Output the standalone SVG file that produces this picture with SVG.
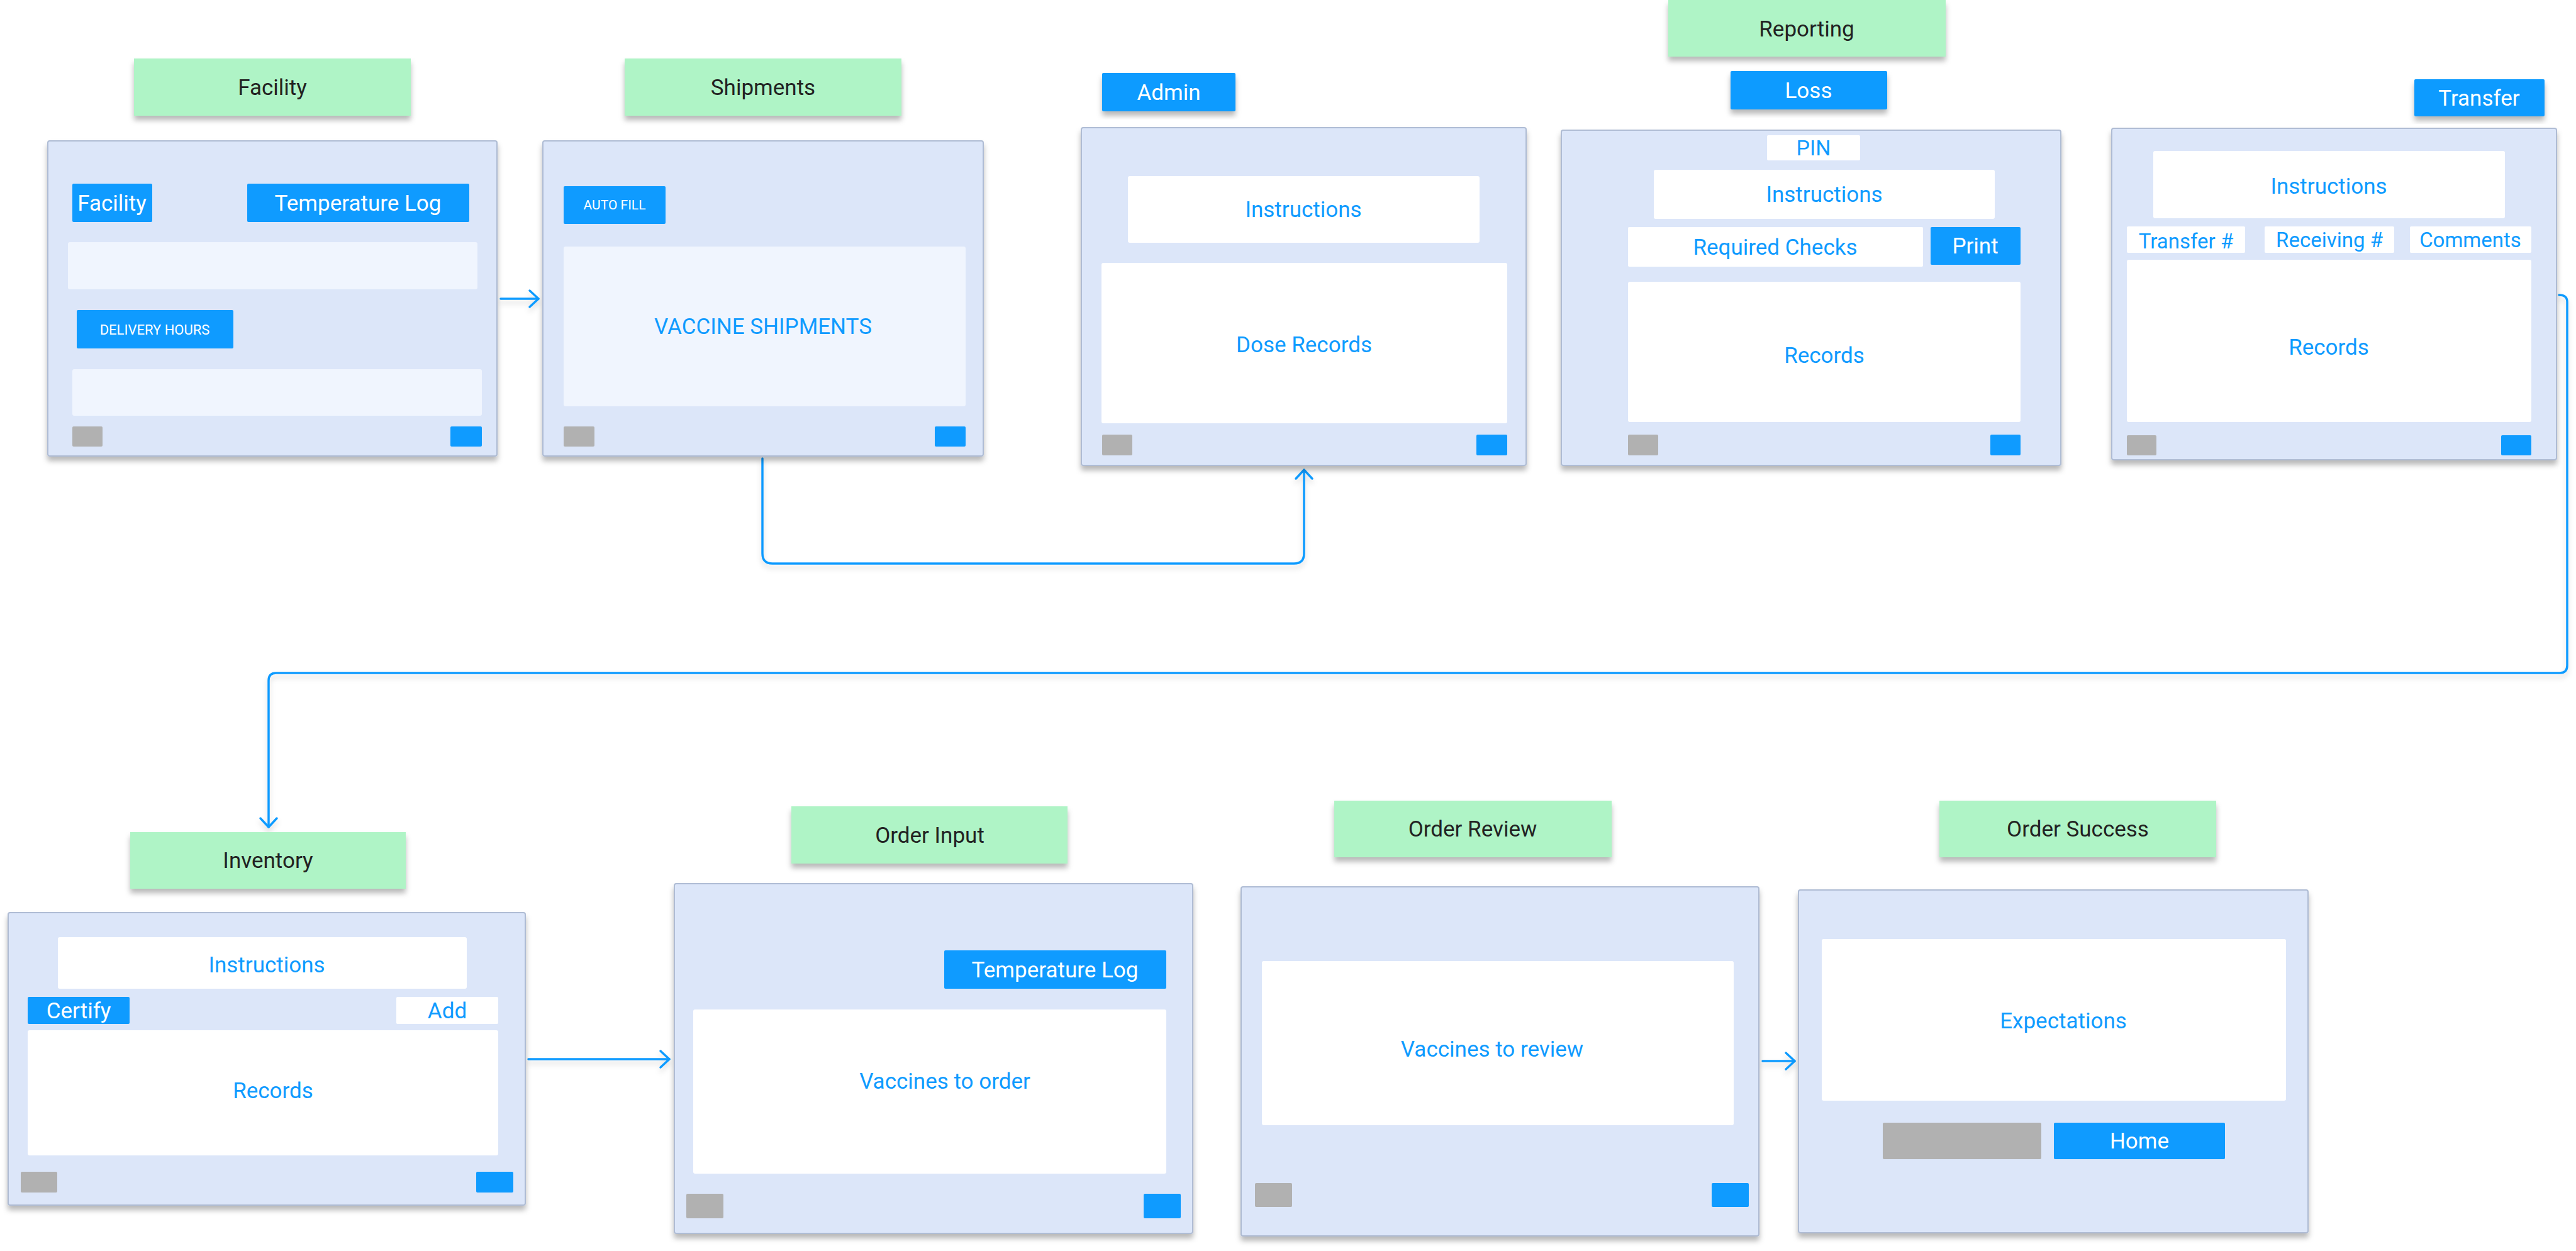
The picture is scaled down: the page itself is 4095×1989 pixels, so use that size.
<svg xmlns="http://www.w3.org/2000/svg" width="4095" height="1989" viewBox="0 0 4095 1989">
<defs>
<style>
text{font-family:Roboto,"Liberation Sans",Arial,sans-serif;font-size:35px;text-anchor:middle;dominant-baseline:central}
.frame{fill:#DCE6F9;stroke:#AFBCD4;stroke-width:2;filter:url(#sh)}
.green{fill:#AFF4C6;filter:url(#sh)}
.tag{fill:#0F9BFF;filter:url(#sh)}
.btn{fill:#0F9BFF}
.white{fill:#FFFFFF}
.strip{fill:#F0F5FE}
.grey{fill:#B1B1B1}
.dark{fill:#222222}
.wt{fill:#FFFFFF}
.bt{fill:#0F9BFF}
.conn{fill:none;stroke:#0F9BFF;stroke-width:3.5;stroke-linecap:round;stroke-linejoin:round}
</style>
<filter id="sh" x="-5%" y="-5%" width="110%" height="125%">
<feDropShadow dx="0" dy="7" stdDeviation="4" flood-color="#000" flood-opacity="0.28"/>
</filter>
<filter id="csh" x="-5%" y="-5%" width="110%" height="120%">
<feDropShadow dx="0" dy="6" stdDeviation="4" flood-color="#000" flood-opacity="0.15"/>
</filter>
<marker id="arr" markerUnits="userSpaceOnUse" viewBox="0 0 20 32" markerWidth="20" markerHeight="32" refX="17" refY="16" orient="auto">
<path d="M3,3 L17,16 L3,29" fill="none" stroke="#0F9BFF" stroke-width="3.5" stroke-linecap="round" stroke-linejoin="round"/>
</marker>
</defs>

<g id="connectors" filter="url(#csh)">
<path class="conn" d="M796,475 L856,475" marker-end="url(#arr)"/>
<path class="conn" d="M1212,729 L1212,880 Q1212,896 1228,896 L2057,896 Q2073,896 2073,880 L2073,747" marker-end="url(#arr)"/>
<path class="conn" d="M4068,469 Q4081,469 4081,480 L4081,1058 Q4081,1070 4069,1070 L439,1070 Q427,1070 427,1082 L427,1315" marker-end="url(#arr)"/>
<path class="conn" d="M840,1684 L1064,1684" marker-end="url(#arr)"/>
<path class="conn" d="M2802,1687 L2853,1687" marker-end="url(#arr)"/>
</g>

<g id="facility">
<rect class="green" x="213" y="93" width="440" height="91"/>
<text class="dark" x="433" y="139">Facility</text>
<rect class="frame" x="76" y="224" width="714" height="501" rx="3"/>
<rect class="btn" x="115" y="292" width="127" height="61" rx="2"/>
<text class="wt" x="178" y="323">Facility</text>
<rect class="btn" x="393" y="292" width="353" height="61" rx="2"/>
<text class="wt" x="569" y="323">Temperature Log</text>
<rect class="strip" x="108" y="385" width="651" height="75" rx="3"/>
<rect class="btn" x="122" y="493" width="249" height="61" rx="2"/>
<text class="wt" x="246" y="524" style="font-size:22px">DELIVERY HOURS</text>
<rect class="strip" x="115" y="587" width="651" height="74" rx="3"/>
<rect class="grey" x="115" y="678" width="48" height="32" rx="2"/>
<rect class="btn" x="716" y="678" width="50" height="32" rx="2"/>
</g>

<g id="shipments">
<rect class="green" x="993" y="93" width="440" height="91"/>
<text class="dark" x="1213" y="139">Shipments</text>
<rect class="frame" x="863" y="224" width="700" height="501" rx="3"/>
<rect class="btn" x="896" y="296" width="162" height="60" rx="2"/>
<text class="wt" x="977" y="326" style="font-size:21px">AUTO FILL</text>
<rect class="strip" x="896" y="392" width="639" height="254" rx="3"/>
<text class="bt" x="1213" y="519" style="font-size:35px">VACCINE SHIPMENTS</text>
<rect class="grey" x="896" y="678" width="49" height="32" rx="2"/>
<rect class="btn" x="1486" y="678" width="49" height="32" rx="2"/>
</g>

<g id="admin">
<rect class="tag" x="1752" y="116" width="212" height="61" rx="2"/>
<text class="wt" x="1858" y="147">Admin</text>
<rect class="frame" x="1719" y="203" width="707" height="537" rx="3"/>
<rect class="white" x="1793" y="280" width="559" height="106" rx="3"/>
<text class="bt" x="2072" y="333">Instructions</text>
<rect class="white" x="1751" y="418" width="645" height="255" rx="3"/>
<text class="bt" x="2073" y="548">Dose Records</text>
<rect class="grey" x="1752" y="691" width="48" height="33" rx="2"/>
<rect class="btn" x="2347" y="691" width="49" height="33" rx="2"/>
</g>

<g id="reporting">
<rect class="green" x="2652" y="0" width="441" height="90"/>
<text class="dark" x="2872" y="46">Reporting</text>
</g>

<g id="loss">
<rect class="tag" x="2751" y="113" width="249" height="61" rx="2"/>
<text class="wt" x="2875" y="144">Loss</text>
<rect class="frame" x="2482" y="207" width="794" height="533" rx="3"/>
<rect class="white" x="2809" y="215" width="148" height="40" rx="2"/>
<text class="bt" x="2883" y="235" style="font-size:34px">PIN</text>
<rect class="white" x="2629" y="270" width="542" height="78" rx="3"/>
<text class="bt" x="2900" y="309">Instructions</text>
<rect class="white" x="2588" y="361" width="469" height="63" rx="2"/>
<text class="bt" x="2822" y="393">Required Checks</text>
<rect class="btn" x="3069" y="361" width="143" height="60" rx="2"/>
<text class="wt" x="3140" y="391">Print</text>
<rect class="white" x="2588" y="448" width="624" height="223" rx="3"/>
<text class="bt" x="2900" y="565">Records</text>
<rect class="grey" x="2588" y="691" width="48" height="33" rx="2"/>
<rect class="btn" x="3164" y="691" width="48" height="33" rx="2"/>
</g>

<g id="transfer">
<rect class="tag" x="3838" y="126" width="207" height="59" rx="2"/>
<text class="wt" x="3941" y="156">Transfer</text>
<rect class="frame" x="3357" y="204" width="707" height="527" rx="3"/>
<rect class="white" x="3423" y="240" width="559" height="107" rx="3"/>
<text class="bt" x="3702" y="296">Instructions</text>
<rect class="white" x="3381" y="360" width="188" height="42" rx="2"/>
<text class="bt" x="3475" y="383" style="font-size:33px">Transfer #</text>
<rect class="white" x="3600" y="360" width="206" height="42" rx="2"/>
<text class="bt" x="3703" y="381" style="font-size:33px">Receiving #</text>
<rect class="white" x="3831" y="360" width="193" height="42" rx="2"/>
<text class="bt" x="3927" y="381" style="font-size:33px">Comments</text>
<rect class="white" x="3381" y="413" width="643" height="258" rx="3"/>
<text class="bt" x="3702" y="552">Records</text>
<rect class="grey" x="3381" y="692" width="47" height="32" rx="2"/>
<rect class="btn" x="3976" y="692" width="48" height="32" rx="2"/>
</g>

<g id="inventory">
<rect class="green" x="207" y="1323" width="438" height="90"/>
<text class="dark" x="426" y="1368">Inventory</text>
<rect class="frame" x="13" y="1451" width="822" height="465" rx="3"/>
<rect class="white" x="92" y="1490" width="650" height="82" rx="3"/>
<text class="bt" x="424" y="1534">Instructions</text>
<rect class="btn" x="44" y="1585" width="162" height="43" rx="2"/>
<text class="wt" x="125" y="1607">Certify</text>
<rect class="white" x="630" y="1585" width="162" height="43" rx="2"/>
<text class="bt" x="711" y="1607">Add</text>
<rect class="white" x="44" y="1638" width="748" height="199" rx="3"/>
<text class="bt" x="434" y="1734">Records</text>
<rect class="grey" x="33" y="1863" width="58" height="33" rx="2"/>
<rect class="btn" x="757" y="1863" width="59" height="33" rx="2"/>
</g>

<g id="order-input">
<rect class="green" x="1258" y="1282" width="439" height="91"/>
<text class="dark" x="1478" y="1328">Order Input</text>
<rect class="frame" x="1072" y="1405" width="824" height="556" rx="3"/>
<rect class="btn" x="1501" y="1511" width="353" height="61" rx="2"/>
<text class="wt" x="1677" y="1542">Temperature Log</text>
<rect class="white" x="1102" y="1605" width="752" height="261" rx="3"/>
<text class="bt" x="1502" y="1719">Vaccines to order</text>
<rect class="grey" x="1091" y="1898" width="59" height="39" rx="2"/>
<rect class="btn" x="1818" y="1898" width="59" height="39" rx="2"/>
</g>

<g id="order-review">
<rect class="green" x="2121" y="1273" width="441" height="90"/>
<text class="dark" x="2341" y="1318">Order Review</text>
<rect class="frame" x="1973" y="1410" width="823" height="555" rx="3"/>
<rect class="white" x="2006" y="1528" width="750" height="261" rx="3"/>
<text class="bt" x="2372" y="1668">Vaccines to review</text>
<rect class="grey" x="1995" y="1881" width="59" height="38" rx="2"/>
<rect class="btn" x="2721" y="1881" width="59" height="38" rx="2"/>
</g>

<g id="order-success">
<rect class="green" x="3083" y="1273" width="440" height="90"/>
<text class="dark" x="3303" y="1318">Order Success</text>
<rect class="frame" x="2859" y="1415" width="810" height="545" rx="3"/>
<rect class="white" x="2896" y="1493" width="738" height="257" rx="3"/>
<text class="bt" x="3280" y="1623">Expectations</text>
<rect class="grey" x="2993" y="1785" width="252" height="58" rx="2"/>
<rect class="btn" x="3265" y="1785" width="272" height="58" rx="2"/>
<text class="wt" x="3401" y="1814">Home</text>
</g>
</svg>
